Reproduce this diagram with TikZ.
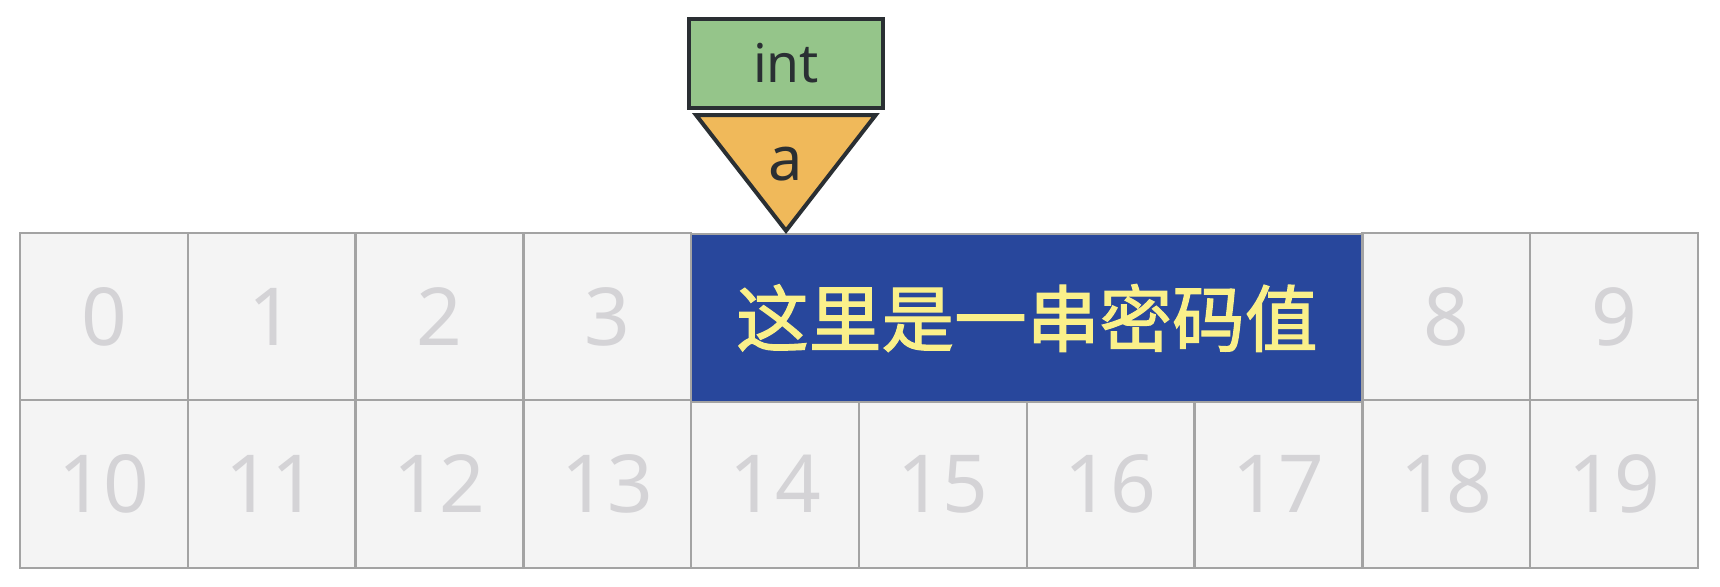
\documentclass[tikz,border=0pt]{standalone}
\usepackage{fontspec}
\setmainfont{Noto Sans}
\newfontfamily\cjk[FakeBold=1.6]{Noto Sans CJK SC}
\definecolor{gridc}{HTML}{A3A3A3}
\definecolor{cellc}{HTML}{F4F4F4}
\definecolor{digitc}{HTML}{D4D3D6}
\definecolor{bluec}{HTML}{28479C}
\definecolor{yelc}{HTML}{FAF08A}
\definecolor{greenc}{HTML}{95C58A}
\definecolor{orangec}{HTML}{F0B95A}
\definecolor{darkc}{HTML}{2A2F33}
\begin{document}
\begin{tikzpicture}[x=0.75pt,y=-0.75pt,
  cell/.style={draw=gridc, line width=1.8pt, fill=cellc, inner sep=0pt, outer sep=0pt,
    minimum width=125.85pt, minimum height=125.6pt, text=digitc,
    font=\fontsize{60}{60}\selectfont},
  secret/.style={draw=gridc, line width=1.8pt, fill=bluec, inner sep=0pt, outer sep=0pt,
    minimum width=503.4pt, minimum height=125.6pt, text=yelc,
    font=\cjk\fontsize{54.5}{54.5}\selectfont},
  typebox/.style={draw=darkc, line width=3pt, fill=greenc, inner sep=0pt,
    minimum width=145.5pt, minimum height=66.5pt, text=darkc,
    font=\fontsize{40}{40}\selectfont},
  varlabel/.style={text=darkc, font=\fontsize{46}{46}\selectfont, inner sep=0pt}]
\useasboundingbox (0,0) rectangle (1720,586);
% top row
\foreach \i in {0,1,2,3,8,9} {
  \node[cell] (t\i) at ({20+167.8*(\i+0.5)},316.5) {\i};
}
% bottom row
\foreach \i in {0,...,9} {
  \pgfmathtruncatemacro{\n}{10+\i}
  \node[cell] (b\i) at ({20+167.8*(\i+0.5)},484) {\n};
}
% secret block
\node[secret] (secret) at (1026.8,318) {这里是一串密码值};
% type box
\node[typebox] (int) at (786,63.3) {int};
% triangle pointer
\coordinate (tl) at (696,115);
\coordinate (tr) at (875.7,115);
\coordinate (tip) at (786,230.7);
\draw[draw=darkc, line width=3pt, fill=orangec, line join=miter] (tl) -- (tr) -- (tip) -- cycle;
\node[varlabel] (a) at (786,164) {a};
\end{tikzpicture}
\end{document}
